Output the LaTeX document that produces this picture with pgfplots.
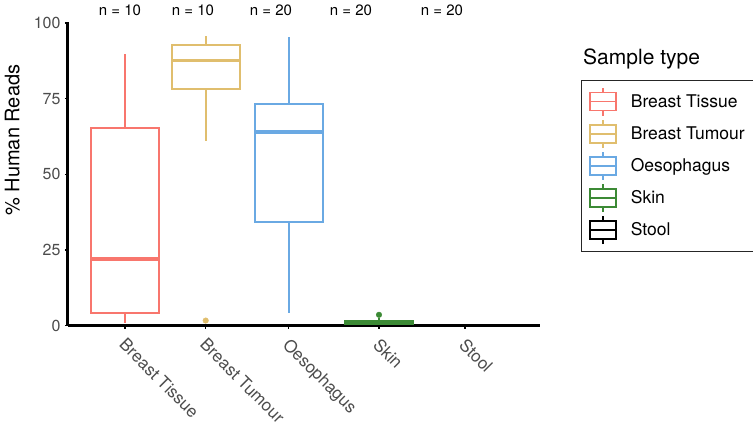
\documentclass[border=0pt]{standalone}
\usepackage{pgfplots}
\pgfplotsset{compat=1.18}
\usepackage{fontspec}
\setmainfont{TeX Gyre Heros}
\definecolor{cTis}{HTML}{F8766D}
\definecolor{cTum}{HTML}{E0BE6E}
\definecolor{cOes}{HTML}{6AA9E3}
\definecolor{cSki}{HTML}{3C8A35}
\definecolor{cSto}{HTML}{000000}
\usepgfplotslibrary{statistics}
\begin{document}
\begin{tikzpicture}
\path[use as bounding box] (-68bp,-101.3bp) rectangle (685bp,325.7bp);
\begin{axis}[
  scale only axis,
  width=472bp, height=303.7bp,
  xmin=68, xmax=540, ymin=0, ymax=100.3,
  axis lines=left,
  axis line style={-, line width=3bp, black},
  clip=false,
  xtick={125,205.7,288.7,379,465},
  xticklabels={Breast Tissue,Breast Tumour,Oesophagus,Skin,Stool},
  ytick={0,25,50,75,100},
  tick align=outside,
  major tick length=3bp,
  tick style={black, line width=1.5bp},
  /pgf/number format/assume math mode=true,
  yticklabel style={font=\fontsize{16bp}{19bp}\selectfont, text=black!70, xshift=-1bp},
  xticklabel style={font=\fontsize{17bp}{19bp}\selectfont, text=black!70, rotate=-45, anchor=north west, xshift=4bp, yshift=-1bp},
  ylabel={\% Human Reads},
  ylabel style={font=\fontsize{20bp}{23bp}\selectfont, at={(axis description cs:-0.118,0.611)}, anchor=center},
  boxplot/draw direction=y,
  boxplot/box extend=68,
  boxplot/whisker extend=0,
  boxplot/every median/.style={line width=3.8bp},
  legend style={at={(rel axis cs:1.086,0.81)}, anchor=north west, draw=black!85, line width=1.5bp,
    font=\fontsize{17.5bp}{20bp}\selectfont, cells={anchor=west}, row sep=2.6bp, inner xsep=8bp, inner ysep=6.5bp,
    /tikz/every odd column/.append style={column sep=12bp}},
  legend image code/.code={
    \draw[#1,line width=1.5bp] (13bp,-14bp) -- (13bp,-9bp);
    \draw[#1,line width=1.5bp] (13bp,9bp) -- (13bp,14bp);
    \draw[#1,line width=1.5bp] (0bp,-9bp) rectangle (26bp,9bp);
    \draw[#1,line width=1.5bp] (0bp,0bp) -- (26bp,0bp);
  },
]
\addplot[cTis, line width=2bp, forget plot, boxplot prepared={draw position=125,
  lower whisker=0.8, lower quartile=4.2, median=22.1, upper quartile=65.3, upper whisker=89.7}]
  coordinates {};
\addplot[cTum, line width=2bp, forget plot, boxplot prepared={draw position=205.7,
  lower whisker=60.9, lower quartile=78.1, median=87.6, upper quartile=92.8, upper whisker=95.8}]
  coordinates {};
\addplot[cOes, line width=2bp, forget plot, boxplot prepared={draw position=288.7,
  lower whisker=4.2, lower quartile=34.2, median=64.0, upper quartile=73.1, upper whisker=95.5}]
  coordinates {};
\addplot[cSki, line width=2bp, forget plot, boxplot prepared={draw position=379,
  lower whisker=0.1, lower quartile=0.4, median=1.0, upper quartile=1.7, upper whisker=2.4},
  boxplot/every box/.style={fill=cSki}]
  coordinates {};
\addplot[cSto, line width=1.5bp, forget plot, boxplot prepared={draw position=465,
  lower whisker=0, lower quartile=0, median=0, upper quartile=0, upper whisker=0},
  boxplot/every median/.style={line width=1.5bp}]
  coordinates {};
\addplot[only marks, mark=*, mark size=2.8bp, cTum, forget plot] coordinates {(205.7,1.7)};
\addplot[only marks, mark=*, mark size=2.8bp, cSki, forget plot] coordinates {(379,3.6)};
\addlegendimage{cTis}\addlegendentry{Breast Tissue}
\addlegendimage{cTum}\addlegendentry{Breast Tumour}
\addlegendimage{cOes}\addlegendentry{Oesophagus}
\addlegendimage{cSki}\addlegendentry{Skin}
\addlegendimage{cSto}\addlegendentry{Stool}
\node[font=\fontsize{15bp}{18bp}\selectfont] at (axis cs:120,104.2) {n = 10};
\node[font=\fontsize{15bp}{18bp}\selectfont] at (axis cs:193,104.2) {n = 10};
\node[font=\fontsize{15bp}{18bp}\selectfont] at (axis cs:271,104.2) {n = 20};
\node[font=\fontsize{15bp}{18bp}\selectfont] at (axis cs:351,104.2) {n = 20};
\node[font=\fontsize{15bp}{18bp}\selectfont] at (axis cs:442,104.2) {n = 20};
\node[font=\fontsize{21bp}{24bp}\selectfont, anchor=west, inner sep=0pt] at (axis cs:583,88.2) {Sample type};
\end{axis}
\end{tikzpicture}
\end{document}
